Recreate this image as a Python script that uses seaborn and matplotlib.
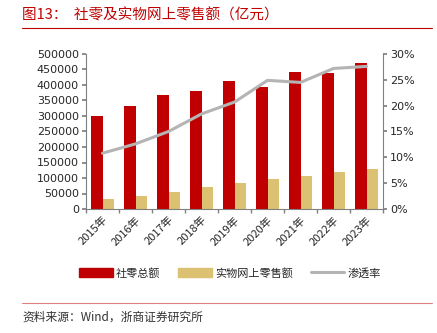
import matplotlib
matplotlib.use("Agg")
import matplotlib.pyplot as plt
import seaborn as sns
import pandas as pd
import numpy as np
from matplotlib.patches import Patch
from matplotlib.lines import Line2D

years = ["2015年", "2016年", "2017年", "2018年", "2019年", "2020年", "2021年", "2022年", "2023年"]
retail_total = [300931, 332316, 366262, 380987, 411649, 391981, 440823, 439733, 471495]
online_physical = [32424, 41944, 54806, 70198, 85239, 97590, 108042, 119642, 130174]
penetration = [10.8, 12.6, 15.0, 18.4, 20.7, 24.9, 24.5, 27.2, 27.6]

sns.set_theme(style="white")
plt.rcParams['font.family'] = ['Noto Sans CJK SC', 'DejaVu Sans']

RED = "#C00000"
GOLD = "#DCC172"
GRAY = "#B4B4B4"

df = pd.DataFrame({
    "year": years * 2,
    "value": retail_total + online_physical,
    "series": ["社零总额"] * len(years) + ["实物网上零售额"] * len(years),
})

fig = plt.figure(figsize=(4.37, 3.33), dpi=100)
ax = fig.add_axes([86/437, 1 - 209/333, (383-86)/437, (209-54)/333])

sns.barplot(data=df, x="year", y="value", hue="series", palette=[RED, GOLD],
            width=0.70, gap=0, linewidth=0, ax=ax, legend=False, saturation=1)
ax.set_ylim(0, 500000)
ax.set_yticks(np.arange(0, 500001, 50000))
ax.set_yticklabels([str(v) for v in range(0, 500001, 50000)], fontsize=8, family='DejaVu Sans')
ax.set_xlim(-0.5, len(years) - 0.5)
ax.set_xlabel("")
ax.set_ylabel("")
ax.set_xticks(range(len(years)))
ax.set_xticklabels(years, rotation=45, ha="right", rotation_mode="anchor", fontsize=8)
ax.tick_params(axis="x", length=0, pad=4)
ax.set_xticks(np.arange(-0.5, len(years), 1), minor=True)
ax.tick_params(axis="x", which="minor", length=3, color="#808080", direction="out", bottom=True)
ax.tick_params(axis="y", length=3, color="#808080", direction="out", left=True, pad=2)
for s in ["top", "right"]:
    ax.spines[s].set_visible(False)
for s in ["left", "bottom"]:
    ax.spines[s].set_color("#808080")
    ax.spines[s].set_linewidth(0.8)

ax2 = ax.twinx()
sns.lineplot(x=list(range(len(years))), y=penetration, ax=ax2, color=GRAY, linewidth=2.2)
ax2.set_ylim(0, 30)
ax2.set_yticks(range(0, 31, 5))
ax2.set_yticklabels([f"{v}%" for v in range(0, 31, 5)], fontsize=8, family='DejaVu Sans')
ax2.tick_params(axis="y", length=3, color="#808080", direction="out", right=True, pad=2)
for s in ["top", "left", "bottom"]:
    ax2.spines[s].set_visible(False)
ax2.spines["right"].set_color("#808080")
ax2.spines["right"].set_linewidth(0.8)
ax2.set_xlim(-0.5, len(years) - 0.5)

handles = [Patch(color=RED), Patch(color=GOLD), Line2D([0], [0], color=GRAY, lw=2.2)]
fig.legend(handles, ["社零总额", "实物网上零售额", "渗透率"], loc="center",
           bbox_to_anchor=(230/437, 1 - 273/333), ncol=3, frameon=False, fontsize=8,
           handlelength=3.0, handleheight=0.9, columnspacing=1.6, handletextpad=0.3)

fig.text(22/437, 1 - 15/333, "图13：  社零及实物网上零售额（亿元）", color="#C00000",
         fontsize=10.5, va="center", ha="left")
fig.add_artist(Line2D([22/437, 432/437], [1 - 28/333, 1 - 28/333], color="#C00000", lw=0.8))
fig.add_artist(Line2D([22/437, 432/437], [1 - 303/333, 1 - 303/333], color="#E08080", lw=0.8))
fig.text(22/437, 1 - 317/333, "资料来源：Wind，浙商证券研究所", color="#333333",
         fontsize=8.5, va="center", ha="left")

fig.savefig("out.png", dpi=100)
